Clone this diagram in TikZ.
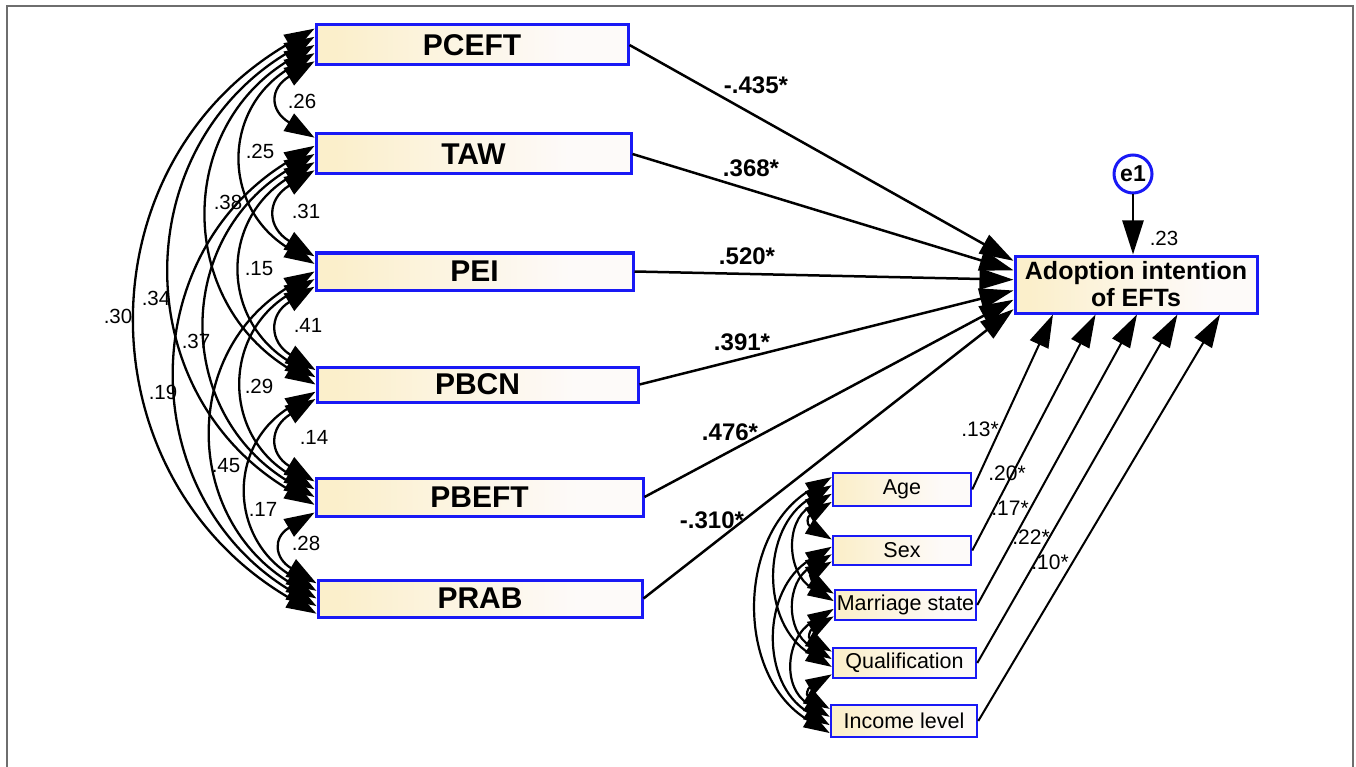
\documentclass[tikz,border=0pt]{standalone}
\usepackage{fontspec}
\setmainfont{Liberation Sans}
\usetikzlibrary{arrows.meta,calc}

\definecolor{boxblue}{RGB}{25,25,245}
\definecolor{fillA}{RGB}{251,239,203}
\definecolor{fillB}{RGB}{253,250,249}
\definecolor{framegray}{RGB}{110,110,110}
\pgfdeclarehorizontalshading{boxfill}{100bp}{color(0bp)=(fillA); color(28bp)=(fillA); color(65bp)=(fillB); color(100bp)=(fillB)}

% curved two-headed covariance along the left edges of two boxes
% #1 upper node, #2 position on its left edge, #3 lower node, #4 position, #5 bulge, #6 vertical pull, #7 style
\newcommand\drawcov[7]{%
  \draw[#7] ($(#1.north west)!#2!(#1.south west)$)
    .. controls +(-#5,#6) and +(-#5,-#6) ..
    ($(#3.north west)!#4!(#3.south west)$);}

\tikzset{
  bigbox/.style={draw=boxblue, line width=3pt, shading=boxfill, inner sep=0pt,
    font=\fontsize{30}{32}\selectfont\bfseries},
  smallbox/.style={draw=boxblue, line width=2.5pt, shading=boxfill, inner sep=0pt,
    font=\fontsize{21.5}{24}\selectfont},
  cov/.style={line width=2.3pt,
    {Triangle[length=30pt,width=20pt]}-{Triangle[length=30pt,width=20pt]}},
  scov/.style={line width=2.2pt,
    {Triangle[length=26pt,width=17pt]}-{Triangle[length=26pt,width=17pt]}},
  regpath/.style={line width=2.5pt, -{Triangle[length=34pt,width=21pt]}},
  ctrlpath/.style={line width=2pt, -{Triangle[length=33pt,width=20pt]}},
  covlab/.style={font=\fontsize{20.5}{20.5}\selectfont, inner sep=0pt},
  ctrllab/.style={font=\fontsize{21}{21}\selectfont, inner sep=0pt},
  coeflab/.style={font=\fontsize{24}{24}\selectfont\bfseries, inner sep=0pt},
}

\begin{document}
\begin{tikzpicture}[x=1pt, y=-1pt]
\useasboundingbox (0,0) rectangle (1356,767);

% outer frame
\draw[framegray, line width=1.5pt] (7,767) -- (7,6) -- (1353,6) -- (1353,767);

% exogenous constructs
\node[bigbox, minimum width=312pt, minimum height=40pt] (pceft) at (472,45) {PCEFT};
\node[bigbox, minimum width=315pt, minimum height=40pt] (taw) at (473.5,154) {TAW};
\node[bigbox, minimum width=317pt, minimum height=37pt] (pei) at (474.5,271.5) {PEI};
\node[bigbox, minimum width=321pt, minimum height=35pt] (pbcn) at (477.5,384.5) {PBCN};
\node[bigbox, minimum width=327pt, minimum height=38pt] (pbeft) at (479.5,497) {PBEFT};
\node[bigbox, minimum width=324pt, minimum height=37pt] (prab) at (480,598.5) {PRAB};

% outcome and its error term
\node[bigbox, font=\fontsize{25}{27}\selectfont\bfseries, align=center,
      minimum width=242pt, minimum height=57pt] (adopt) at (1136,284.5) {Adoption intention\\of EFTs};
\node[circle, draw=boxblue, line width=3pt, fill=white, minimum size=38pt, inner sep=0pt,
      font=\fontsize{23}{23}\selectfont\bfseries] (e1) at (1133,174) {e1};
\coordinate (e1end) at (e1 |- adopt.north);
\draw[regpath] (e1) -- (e1end);
\node[covlab] (r2) at (1164,238) {.23};

% control variables
\node[smallbox, minimum width=138pt, minimum height=33pt] (age) at (902,489.5) {Age};
\node[smallbox, minimum width=138pt, minimum height=29pt] (sex) at (902,550.5) {Sex};
\node[smallbox, minimum width=141pt, minimum height=30pt] (mar) at (905.5,605) {Marriage state};
\node[smallbox, minimum width=143pt, minimum height=30pt] (qual) at (904.5,663) {Qualification};
\node[smallbox, minimum width=146pt, minimum height=32pt] (inc) at (904,721) {Income level};

% structural paths
\draw[regpath] (pceft.east) -- ($(adopt.north west)!0.105!(adopt.south west)$);
\draw[regpath] (taw.east)   -- ($(adopt.north west)!0.263!(adopt.south west)$);
\draw[regpath] (pei.east)   -- ($(adopt.north west)!0.42!(adopt.south west)$);
\draw[regpath] (pbcn.east)  -- ($(adopt.north west)!0.60!(adopt.south west)$);
\draw[regpath] (pbeft.east) -- ($(adopt.north west)!0.754!(adopt.south west)$);
\draw[regpath] (prab.east)  -- ($(adopt.north west)!0.912!(adopt.south west)$);

\node[coeflab] (b1) at (756,85)  {-.435*};
\node[coeflab] (b2) at (751,168) {.368*};
\node[coeflab] (b3) at (747,256) {.520*};
\node[coeflab] (b4) at (742,342) {.391*};
\node[coeflab] (b5) at (730,432) {.476*};
\node[coeflab] (b6) at (712,520) {-.310*};

% control paths
\draw[ctrlpath] (age.east)  -- ($(adopt.south west)!0.161!(adopt.south east)$);
\draw[ctrlpath] (sex.east)  -- ($(adopt.south west)!0.335!(adopt.south east)$);
\draw[ctrlpath] (mar.east)  -- ($(adopt.south west)!0.504!(adopt.south east)$);
\draw[ctrlpath] (qual.east) -- ($(adopt.south west)!0.669!(adopt.south east)$);
\draw[ctrlpath] (inc.east)  -- ($(adopt.south west)!0.843!(adopt.south east)$);

\node[ctrllab] (g1) at (980,429)  {.13*};
\node[ctrllab] (g2) at (1007,473) {.20*};
\node[ctrllab] (g3) at (1010,508) {.17*};
\node[ctrllab] (g4) at (1031,537) {.22*};
\node[ctrllab] (g5) at (1050,562) {.10*};

% covariances among the constructs
\drawcov{pceft}{0.88}{taw}{0.12}{45}{27}{cov}
\drawcov{pceft}{0.69}{pei}{0.31}{93}{56}{cov}
\drawcov{pceft}{0.50}{pbcn}{0.50}{139}{83}{cov}
\drawcov{pceft}{0.31}{pbeft}{0.69}{188}{111}{cov}
\drawcov{pceft}{0.12}{prab}{0.88}{235}{136}{cov}
\drawcov{taw}{0.88}{pei}{0.12}{48}{29}{cov}
\drawcov{taw}{0.69}{pbcn}{0.31}{95}{57}{cov}
\drawcov{taw}{0.50}{pbeft}{0.50}{141}{84}{cov}
\drawcov{taw}{0.31}{prab}{0.69}{182}{109}{cov}
\drawcov{pei}{0.88}{pbcn}{0.12}{46}{28}{cov}
\drawcov{pei}{0.69}{pbeft}{0.31}{92}{55}{cov}
\drawcov{pei}{0.50}{prab}{0.50}{134}{80}{cov}
\drawcov{pbcn}{0.88}{pbeft}{0.12}{46}{28}{cov}
\drawcov{pbcn}{0.69}{prab}{0.31}{88}{53}{cov}
\drawcov{pbeft}{0.88}{prab}{0.12}{42}{25}{cov}

\node[covlab] (c01) at (302,101) {.26};
\node[covlab] (c02) at (260,151) {.25};
\node[covlab] (c03) at (228,202) {.38};
\node[covlab] (c04) at (156,298) {.34};
\node[covlab] (c05) at (118,316) {.30};
\node[covlab] (c12) at (306,211) {.31};
\node[covlab] (c13) at (259,269) {.15};
\node[covlab] (c14) at (196,341) {.37};
\node[covlab] (c15) at (163,392) {.19};
\node[covlab] (c23) at (308,325) {.41};
\node[covlab] (c24) at (259,386) {.29};
\node[covlab] (c25) at (226,466) {.45};
\node[covlab] (c34) at (314,437) {.14};
\node[covlab] (c35) at (263,509) {.17};
\node[covlab] (c45) at (306,543) {.28};

% covariances among the controls
\drawcov{age}{0.85}{sex}{0.15}{25}{15}{scov}
\drawcov{age}{0.62}{mar}{0.38}{47}{28}{scov}
\drawcov{age}{0.38}{qual}{0.62}{71}{43}{scov}
\drawcov{age}{0.15}{inc}{0.85}{95}{57}{scov}
\drawcov{sex}{0.85}{mar}{0.15}{22}{13}{scov}
\drawcov{sex}{0.62}{qual}{0.38}{46}{28}{scov}
\drawcov{sex}{0.38}{inc}{0.62}{70}{42}{scov}
\drawcov{mar}{0.85}{qual}{0.15}{24}{14}{scov}
\drawcov{mar}{0.62}{inc}{0.38}{48}{29}{scov}
\drawcov{qual}{0.85}{inc}{0.15}{24}{14}{scov}
\end{tikzpicture}
\end{document}
